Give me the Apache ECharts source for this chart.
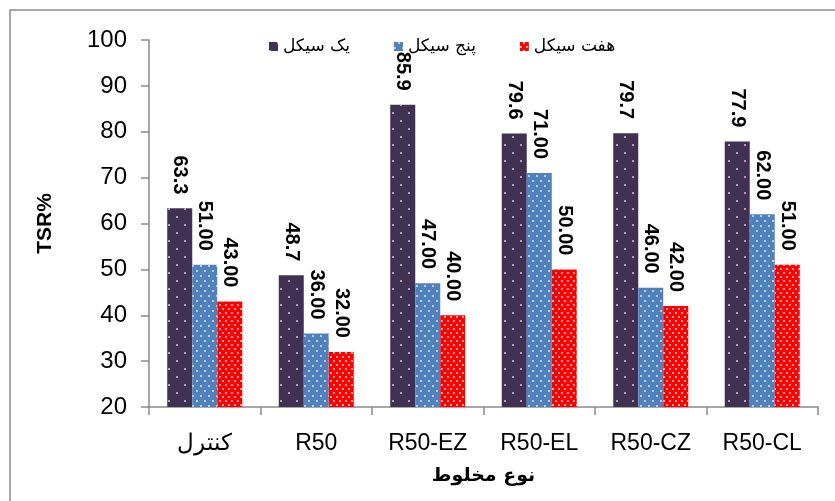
<!DOCTYPE html>
<html>
<head>
<meta charset="utf-8">
<script src="https://cdn.jsdelivr.net/npm/echarts@6/dist/echarts.min.js"></script>
<style>
  html, body { margin: 0; padding: 0; background: #fff; }
  #chart { width: 835px; height: 501px; }
</style>
</head>
<body>
<div id="chart"></div>
<script>
// Mix types on the category axis
const categories = ['کنترل', 'R50', 'R50-EZ', 'R50-EL', 'R50-CZ', 'R50-CL'];

// TSR% after one, five and seven freeze-thaw cycles
const seriesNames = ['یک سیکل', 'پنج سیکل', 'هفت سیکل'];
const oneCycle = [63.3, 48.7, 85.9, 79.6, 79.7, 77.9];
const fiveCycles = [51.00, 36.00, 47.00, 71.00, 46.00, 62.00];
const sevenCycles = [43.00, 32.00, 40.00, 50.00, 42.00, 51.00];

// Value axis ticks
const yTicks = [20, 30, 40, 50, 60, 70, 80, 90, 100];

const latin = '"Liberation Sans", Arial, sans-serif';
const arabic = '"DejaVu Sans", "Liberation Sans", sans-serif';
const axisGray = '#8a8a8a';

function makeSeries(name, values, color, decal, digits) {
  return {
    name: name,
    type: 'bar',
    data: values,
    barWidth: 25,
    barGap: '0%',
    itemStyle: { color: color, decal: decal },
    label: {
      show: true,
      position: 'top',
      distance: 14,
      rotate: -90,
      align: 'right',
      verticalAlign: 'middle',
      color: '#000',
      fontFamily: latin,
      fontWeight: 'bold',
      fontSize: 20,
      formatter: p => p.value.toFixed(digits)
    }
  };
}

const chart = echarts.init(document.getElementById('chart'), null, { renderer: 'canvas' });

chart.setOption({
  animation: false,
  backgroundColor: '#fff',
  graphic: [{
    type: 'rect',
    shape: { x: 10, y: 10, width: 900, height: 600 },
    style: { fill: 'none', stroke: axisGray, lineWidth: 1.5 },
    silent: true,
    z: -1
  }],
  legend: {
    left: 264,
    top: 33,
    itemWidth: 9,
    itemHeight: 9,
    itemGap: 44,
    icon: 'rect',
    textStyle: { fontFamily: arabic, fontSize: 17, color: '#000' },
    data: seriesNames
  },
  grid: { left: 149, right: 17, top: 40, bottom: 94, containLabel: false },
  xAxis: {
    type: 'category',
    data: categories,
    name: 'نوع مخلوط',
    nameLocation: 'middle',
    nameGap: 60,
    nameTextStyle: { fontFamily: arabic, fontWeight: 'bold', fontSize: 19, color: '#000' },
    axisLine: { lineStyle: { color: axisGray, width: 1.5 } },
    axisTick: { show: true, length: 8, alignWithLabel: false, lineStyle: { color: axisGray, width: 1.5 } },
    axisLabel: {
      interval: 0,
      margin: 25,
      color: '#000',
      fontSize: 23,
      fontFamily: latin
    }
  },
  yAxis: {
    type: 'value',
    min: yTicks[0],
    max: yTicks[yTicks.length - 1],
    interval: 10,
    name: 'TSR%',
    nameLocation: 'middle',
    nameGap: 93,
    nameRotate: 90,
    nameTextStyle: { fontFamily: latin, fontWeight: 'bold', fontSize: 21, color: '#000' },
    splitLine: { show: false },
    axisLine: { show: true, lineStyle: { color: axisGray, width: 1.5 } },
    axisTick: { show: true, inside: false, length: 8, lineStyle: { color: axisGray, width: 1.5 } },
    axisLabel: {
      margin: 22,
      color: '#000',
      fontSize: 24,
      fontFamily: latin
    }
  },
  series: [
    makeSeries(seriesNames[0], oneCycle, '#403152', {
      symbol: 'circle', symbolSize: 1, color: 'rgba(255,255,255,0.75)',
      dashArrayX: [[2, 14], [0, 8, 2, 6]], dashArrayY: [2, 6]
    }, 1),
    makeSeries(seriesNames[1], fiveCycles, '#4f81bd', {
      symbol: 'circle', symbolSize: 1, color: 'rgba(255,255,255,0.8)',
      dashArrayX: [[2, 6], [0, 4, 2, 2]], dashArrayY: [2, 2.5]
    }, 2),
    makeSeries(seriesNames[2], sevenCycles, '#ff0000', {
      symbol: 'circle', symbolSize: 1, color: 'rgba(255,255,255,0.85)',
      dashArrayX: [[2, 4], [0, 3, 2, 1]], dashArrayY: [2, 1.6]
    }, 2)
  ]
});
</script>
</body>
</html>
